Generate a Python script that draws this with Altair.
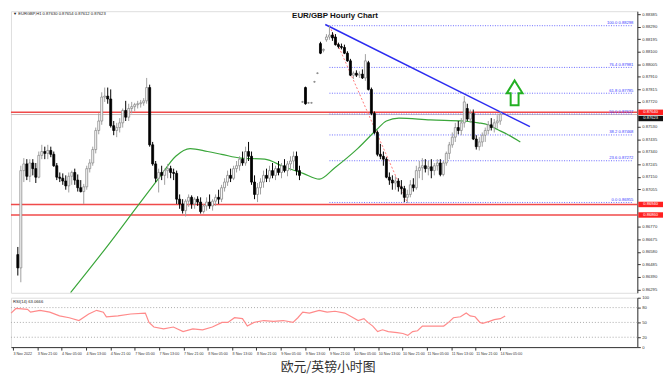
import altair as alt
import pandas as pd

# ---------------- data ----------------
OPEN = [0.86559,0.86458,0.87197,0.87248,0.87154,0.87255,0.87212,0.87147,0.87313,0.87342,
        0.87328,0.87350,0.87321,0.87234,0.87147,0.87139,0.87118,0.87081,0.87154,0.87183,
        0.87125,0.87067,0.87038,0.87074,0.87212,0.87255,0.87357,0.87502,0.87574,0.87756,
        0.87763,0.87741,0.87538,0.87502,0.87524,0.87560,0.87654,0.87603,0.87669,0.87683,
        0.87698,0.87705,0.87712,0.87727,0.87828,0.87393,0.87248,0.87139,0.87183,0.87161,
        0.87197,0.87212,0.87183,0.87176,0.86980,0.86944,0.86893,0.86965,0.86994,0.86944,
        0.86980,0.86958,0.86886,0.86929,0.86958,0.86929,0.86965,0.86994,0.86980,0.87067,
        0.87110,0.87161,0.87139,0.87212,0.87234,0.87284,0.87255,0.87342,0.87306,0.87110,
        0.87016,0.87067,0.87110,0.87161,0.87139,0.87197,0.87161,0.87212,0.87183,0.87234,
        0.87197,0.87248,0.87270,0.87306,0.87197,0.87719,0.87828,0.87712,0.87712,0.87872,
        0.87937,0.88162,0.88111,0.88191,0.88212,0.88227,0.88212,0.88154,0.88140,0.88133,
        0.88089,0.88031,0.87922,0.87937,0.87922,0.87930,0.87901,0.88017,0.87814,0.87632,
        0.87487,0.87321,0.87306,0.87284,0.87147,0.87125,0.87103,0.87118,0.87074,0.87060,
        0.86994,0.87016,0.87089,0.87067,0.87197,0.87219,0.87234,0.87212,0.87226,0.87197,
        0.87234,0.87255,0.87168,0.87255,0.87328,0.87393,0.87451,0.87524,0.87502,0.87560,
        0.87669,0.87589,0.87632,0.87437,0.87379,0.87415,0.87466,0.87502,0.87545,0.87524,
        0.87560,0.87574]
HIGH = [0.86617,0.87234,0.87292,0.87284,0.87284,0.87284,0.87255,0.87342,0.87393,0.87379,
        0.87393,0.87379,0.87342,0.87255,0.87183,0.87176,0.87161,0.87183,0.87197,0.87212,
        0.87168,0.87125,0.87096,0.87234,0.87284,0.87379,0.87524,0.87632,0.87792,0.87828,
        0.87828,0.87814,0.87574,0.87560,0.87596,0.87669,0.87727,0.87705,0.87719,0.87712,
        0.87727,0.87734,0.87748,0.87901,0.87850,0.87415,0.87270,0.87212,0.87234,0.87212,
        0.87248,0.87234,0.87212,0.87197,0.87016,0.86980,0.86980,0.87016,0.87009,0.86994,
        0.87002,0.86994,0.86944,0.86994,0.87016,0.86980,0.87016,0.87052,0.87089,0.87139,
        0.87197,0.87212,0.87234,0.87270,0.87306,0.87342,0.87379,0.87415,0.87342,0.87161,
        0.87103,0.87139,0.87197,0.87212,0.87234,0.87255,0.87234,0.87270,0.87255,0.87284,
        0.87270,0.87306,0.87342,0.87342,0.87234,0.87727,0.87835,0.87719,0.87719,0.87879,
        0.87944,0.88176,0.88125,0.88234,0.88299,0.88249,0.88234,0.88169,0.88162,0.88154,
        0.88104,0.88046,0.87951,0.87959,0.87951,0.87966,0.88082,0.88031,0.87828,0.87647,
        0.87502,0.87400,0.87342,0.87299,0.87183,0.87161,0.87154,0.87139,0.87125,0.87081,
        0.87052,0.87125,0.87139,0.87234,0.87270,0.87292,0.87284,0.87270,0.87284,0.87255,
        0.87284,0.87284,0.87270,0.87342,0.87415,0.87487,0.87560,0.87574,0.87596,0.87763,
        0.87705,0.87661,0.87661,0.87466,0.87451,0.87487,0.87524,0.87574,0.87596,0.87589,
        0.87618,0.87647]
LOW = [0.86400,0.86349,0.87110,0.87125,0.87110,0.87161,0.87103,0.87139,0.87284,0.87284,
       0.87284,0.87299,0.87226,0.87125,0.87110,0.87089,0.87052,0.87031,0.87089,0.87089,
       0.87038,0.87031,0.86944,0.87052,0.87183,0.87234,0.87328,0.87473,0.87545,0.87719,
       0.87705,0.87524,0.87466,0.87451,0.87487,0.87524,0.87574,0.87574,0.87632,0.87647,
       0.87669,0.87676,0.87690,0.87705,0.87379,0.87234,0.87110,0.87031,0.87125,0.87089,
       0.87139,0.87139,0.87125,0.86944,0.86907,0.86871,0.86849,0.86922,0.86907,0.86907,
       0.86929,0.86871,0.86871,0.86893,0.86907,0.86893,0.86929,0.86944,0.86958,0.87038,
       0.87081,0.87110,0.87125,0.87183,0.87197,0.87234,0.87234,0.87270,0.87089,0.86980,
       0.86958,0.87016,0.87067,0.87110,0.87110,0.87139,0.87125,0.87161,0.87139,0.87183,
       0.87154,0.87197,0.87212,0.87161,0.87125,0.87712,0.87698,0.87705,0.87705,0.87864,
       0.87930,0.88082,0.88096,0.88176,0.88191,0.88183,0.88147,0.88125,0.88118,0.88082,
       0.88024,0.87915,0.87893,0.87908,0.87901,0.87893,0.87879,0.87806,0.87618,0.87473,
       0.87306,0.87284,0.87234,0.87139,0.87089,0.87052,0.87052,0.87038,0.87016,0.86958,
       0.86951,0.86994,0.87038,0.87052,0.87139,0.87125,0.87183,0.87161,0.87139,0.87161,
       0.87197,0.87154,0.87154,0.87234,0.87284,0.87371,0.87415,0.87473,0.87466,0.87524,
       0.87574,0.87560,0.87429,0.87357,0.87350,0.87379,0.87415,0.87473,0.87502,0.87487,
       0.87516,0.87545]
CLOSE = [0.86458,0.87197,0.87248,0.87154,0.87255,0.87212,0.87147,0.87313,0.87342,0.87328,
         0.87350,0.87321,0.87234,0.87147,0.87139,0.87118,0.87081,0.87154,0.87183,0.87125,
         0.87067,0.87038,0.87074,0.87212,0.87255,0.87357,0.87502,0.87574,0.87756,0.87763,
         0.87741,0.87538,0.87502,0.87524,0.87560,0.87654,0.87603,0.87669,0.87683,0.87698,
         0.87705,0.87712,0.87727,0.87828,0.87393,0.87248,0.87139,0.87183,0.87161,0.87197,
         0.87212,0.87183,0.87176,0.86980,0.86944,0.86893,0.86965,0.86994,0.86944,0.86980,
         0.86958,0.86886,0.86929,0.86958,0.86929,0.86965,0.86994,0.86980,0.87067,0.87110,
         0.87161,0.87139,0.87212,0.87234,0.87284,0.87255,0.87342,0.87306,0.87110,0.87016,
         0.87067,0.87110,0.87161,0.87139,0.87197,0.87161,0.87212,0.87183,0.87234,0.87197,
         0.87248,0.87270,0.87306,0.87197,0.87161,0.87719,0.87705,0.87712,0.87712,0.87872,
         0.87937,0.88089,0.88118,0.88212,0.88227,0.88205,0.88154,0.88140,0.88133,0.88089,
         0.88031,0.87922,0.87937,0.87922,0.87930,0.87901,0.88031,0.87814,0.87632,0.87487,
         0.87321,0.87306,0.87284,0.87147,0.87125,0.87103,0.87118,0.87074,0.87060,0.86994,
         0.87016,0.87089,0.87067,0.87197,0.87219,0.87234,0.87212,0.87226,0.87197,0.87234,
         0.87255,0.87168,0.87255,0.87328,0.87393,0.87451,0.87524,0.87502,0.87560,0.87719,
         0.87589,0.87632,0.87437,0.87379,0.87415,0.87466,0.87502,0.87545,0.87524,0.87560,
         0.87574,0.87625]

TIME_LABELS = ["3 Nov 2022", "3 Nov 21:00", "4 Nov 05:00", "4 Nov 13:00", "4 Nov 21:00",
               "7 Nov 05:00", "7 Nov 13:00", "7 Nov 21:00", "8 Nov 05:00", "8 Nov 13:00",
               "8 Nov 21:00", "9 Nov 05:00", "9 Nov 13:00", "9 Nov 21:00", "10 Nov 05:00",
               "10 Nov 13:00", "10 Nov 21:00", "11 Nov 05:00", "11 Nov 13:00", "11 Nov 21:00",
               "14 Nov 05:00"]
LABEL_STEP = 8  # one time label every 8 hourly bars

# price labels of the right axis (those hidden behind the line-price boxes are left out)
PRICE_TICKS = [0.88385, 0.88290, 0.88195, 0.88100, 0.88005, 0.87910, 0.87815, 0.87720,
               0.87530, 0.87435, 0.87340, 0.87245, 0.87150, 0.87055,
               0.86770, 0.86675, 0.86580, 0.86485, 0.86390, 0.86295]

MA_BAR = [17.6, 30.4, 40, 47.3, 52.7, 57.5, 63.3, 68, 74.4, 82.4, 88.8, 95.2, 100.6,
          105.8, 113.4, 119.8, 123, 127.2, 137.7, 148.6, 153.7, 156.9, 160.1, 163.3, 167.7]
MA_PRICE = [0.86270, 0.86639, 0.86929, 0.87147, 0.87306, 0.87364, 0.87342, 0.87321,
            0.87292, 0.87284, 0.87226, 0.87176, 0.87132, 0.87219, 0.87364, 0.87509,
            0.87574, 0.87596, 0.87582, 0.87574, 0.87560, 0.87545, 0.87509, 0.87473, 0.87415]

RSI_BAR = [-0.6, 1, 4.8, 5.8, 8.9, 12.1, 15.3, 18.5, 21.7, 24.9, 27.5, 29.7, 30.7, 34.5,
           38.7, 43.5, 44.7, 46.3, 49.5, 52.7, 55.9, 59.1, 62.3, 65.5, 68.7, 70.6, 72.8,
           75.4, 77, 79.2, 82.4, 85.6, 88.8, 92, 93.6, 95.2, 97.4, 100.6, 103.2, 105.8,
           109, 111.2, 113.4, 115.3, 116.6, 118.2, 119.8, 121.4, 123.3, 126.2, 128.1,
           129.7, 131.3, 132.9, 134.5, 136.7, 139, 141.5, 143.1, 144.7, 147, 148.9, 150.2,
           151.8, 153.4, 154.3, 156.5, 158.1, 160.1, 161.7]
RSI_VALUE = [68.9, 78.2, 76.4, 70.7, 74.5, 70.7, 63.2, 59.5, 53.8, 67.0, 74.5, 70.7, 61.4,
             63.2, 67.0, 68.9, 50.1, 40.7, 37.0, 40.7, 31.3, 37.0, 35.1, 40.7, 50.1, 50.1,
             59.5, 57.6, 42.6, 50.1, 53.8, 52.0, 53.8, 50.1, 59.5, 70.7, 68.9, 74.5, 70.7,
             72.6, 68.9, 61.4, 53.8, 57.6, 50.1, 42.6, 31.3, 35.1, 31.3, 29.5, 27.6, 23.8,
             31.3, 33.2, 42.6, 42.6, 42.6, 42.6, 50.1, 59.5, 61.4, 68.9, 63.2, 61.4, 50.1,
             48.2, 52.0, 55.7, 57.6, 63.1]
RSI_LEVELS = [80, 50, 20]
RSI_TICKS = [0, 20, 50, 80, 100]

FIB_PCT = [100.0, 76.4, 61.8, 50.0, 38.2, 23.6, 0.0]
FIB_PRICE = [0.88298, 0.87981, 0.87785, 0.87627, 0.87468, 0.87272, 0.86955]
FIB_START_BAR = 104
FIB_DIAG_BAR = [104, 130]
FIB_DIAG_PRICE = [0.88298, 0.86955]

TREND_BAR = [102.6, 170.9]
TREND_PRICE = [0.88307, 0.87531]

RED_LEVELS = [0.87640, 0.86940, 0.86860]
BID_PRICE = 0.87623
ARROW_BAR = [165.8]
ARROW_PRICE = [0.87788]

HEADER = "\u25bc EURGBP,H1  0.87630 0.87654 0.87612 0.87623"
TITLE = "EUR/GBP Hourly Chart"
RSI_HEADER = "RSI(14) 63.0666"
CAPTION = "欧元/英镑小时图"

# ---------------- layout ----------------
W = 634
H_MAIN = 285
H_RSI = 50
X_DOMAIN = [-0.64, 205.1]
Y_DOMAIN = [0.86269, 0.88408]
FONT = "Liberation Sans"
SMALL = 4.2

xsc = alt.Scale(domain=X_DOMAIN, nice=False, zero=False)
ysc = alt.Scale(domain=Y_DOMAIN, nice=False, zero=False)
yax = alt.Axis(orient="right", values=PRICE_TICKS, format=".5f", title=None, grid=False,
               labelFontSize=SMALL, tickSize=3, labelPadding=1.5, labelColor="#333",
               domainColor="#333", tickColor="#333", labelFont=FONT)

candles = pd.DataFrame({"bar": list(range(len(OPEN))), "open": OPEN, "high": HIGH,
                        "low": LOW, "close": CLOSE})
is_bull = "datum.close >= datum.open"

X = alt.X("bar:Q", scale=xsc, axis=None)

wicks = alt.Chart(candles).mark_rule(strokeWidth=1).encode(
    x=X,
    y=alt.Y("low:Q", scale=ysc, axis=yax),
    y2="high:Q",
    color=alt.condition(is_bull, alt.value("#a0a0a0"), alt.value("#000000")),
)
bodies = alt.Chart(candles).mark_bar(size=2, strokeWidth=0.8).encode(
    x=X,
    y=alt.Y("open:Q", scale=ysc, axis=yax),
    y2="close:Q",
    fill=alt.condition(is_bull, alt.value("#ffffff"), alt.value("#000000")),
    stroke=alt.condition(is_bull, alt.value("#8a8a8a"), alt.value("#000000")),
)

red_df = pd.DataFrame({"price": RED_LEVELS})
red_lines = alt.Chart(red_df).mark_rule(color="#f04a4a", strokeWidth=1.6).encode(
    y=alt.Y("price:Q", scale=ysc, axis=yax))
bid_line = alt.Chart(pd.DataFrame({"price": [BID_PRICE]})).mark_rule(
    color="#c9b8b8", strokeWidth=1).encode(y=alt.Y("price:Q", scale=ysc, axis=yax))

fib_df = pd.DataFrame({
    "start": [FIB_START_BAR] * len(FIB_PRICE),
    "end": [X_DOMAIN[1]] * len(FIB_PRICE),
    "price": FIB_PRICE,
    "label": [f"{p:.1f}  {v:.5f}" for p, v in zip(FIB_PCT, FIB_PRICE)],
})
fib_rules = alt.Chart(fib_df).mark_rule(color="#6a6aff", strokeDash=[1, 1.5], strokeWidth=1).encode(
    x=alt.X("start:Q", scale=xsc, axis=None), x2="end:Q",
    y=alt.Y("price:Q", scale=ysc, axis=yax))
fib_text = alt.Chart(fib_df).mark_text(align="right", baseline="bottom", dy=-0.5, fontSize=SMALL,
                                       color="#3a3aff", font=FONT).encode(
    x=alt.value(W - 4), y=alt.Y("price:Q", scale=ysc, axis=yax), text="label:N")

fib_diag = alt.Chart(pd.DataFrame({"bar": FIB_DIAG_BAR, "price": FIB_DIAG_PRICE})).mark_line(
    color="#ff7a7a", strokeDash=[2, 2], strokeWidth=1).encode(
    x=X, y=alt.Y("price:Q", scale=ysc, axis=yax))

ma = alt.Chart(pd.DataFrame({"bar": MA_BAR, "price": MA_PRICE})).mark_line(
    color="#3aa63a", strokeWidth=1.2, interpolate="monotone", clip=True).encode(
    x=X, y=alt.Y("price:Q", scale=ysc, axis=yax))

trend = alt.Chart(pd.DataFrame({"bar": TREND_BAR, "price": TREND_PRICE})).mark_line(
    color="#2b2bf0", strokeWidth=1.5).encode(x=X, y=alt.Y("price:Q", scale=ysc, axis=yax))

ARROW_PATH = "M0,-1 L0.64,0.04 L0.32,0.04 L0.32,1 L-0.32,1 L-0.32,0.04 L-0.64,0.04 Z"
arrow = alt.Chart(pd.DataFrame({"bar": ARROW_BAR, "price": ARROW_PRICE})).mark_point(
    shape=ARROW_PATH, size=625, filled=False, strokeWidth=2, color="#22b022", opacity=1).encode(
    x=X, y=alt.Y("price:Q", scale=ysc, axis=yax))

BOX_PATH = "M-1,-0.22 L1,-0.22 L1,0.22 L-1,0.22 Z"
lvl_df = pd.DataFrame({"price": RED_LEVELS, "label": [f"{v:.5f}" for v in RED_LEVELS]})
bid_df = pd.DataFrame({"price": [BID_PRICE], "label": [f"{BID_PRICE:.5f}"]})
lvl_boxes = alt.Chart(lvl_df).mark_point(shape=BOX_PATH, size=625, filled=True, opacity=1,
                                         color="#ff2020").encode(
    x=alt.value(W + 13.5), y=alt.Y("price:Q", scale=ysc, axis=yax))
lvl_text = alt.Chart(lvl_df).mark_text(fontSize=SMALL, color="white", font=FONT).encode(
    x=alt.value(W + 13.5), y=alt.Y("price:Q", scale=ysc, axis=yax), text="label:N")
bid_box = alt.Chart(bid_df).mark_point(shape=BOX_PATH, size=625, filled=True, opacity=1,
                                       color="#111111", yOffset=4).encode(
    x=alt.value(W + 13.5), y=alt.Y("price:Q", scale=ysc, axis=yax))
bid_text = alt.Chart(bid_df).mark_text(fontSize=SMALL, color="white", font=FONT, dy=4).encode(
    x=alt.value(W + 13.5), y=alt.Y("price:Q", scale=ysc, axis=yax), text="label:N")

header = alt.Chart(pd.DataFrame({"t": [HEADER]})).mark_text(
    align="left", baseline="top", fontSize=SMALL, color="#222", font=FONT).encode(
    x=alt.value(2), y=alt.value(1), text="t:N")
title = alt.Chart(pd.DataFrame({"t": [TITLE]})).mark_text(
    align="center", baseline="top", fontSize=8, fontWeight="bold", color="#111",
    font="Liberation Sans").encode(x=alt.value(328), y=alt.value(1), text="t:N")

main = alt.layer(red_lines, bid_line, fib_rules, fib_text, fib_diag, ma, trend,
                 wicks, bodies, arrow, lvl_boxes, lvl_text, bid_box, bid_text,
                 header, title).properties(width=W, height=H_MAIN)

# ---------------- RSI panel ----------------
label_expr = "[" + ",".join(f"'{t}'" for t in TIME_LABELS) + f"][datum.value / {LABEL_STEP}]"
label_bars = [LABEL_STEP * k for k in range(len(TIME_LABELS))]
xax = alt.Axis(values=label_bars, labelExpr=label_expr, labelAlign="left", labelFontSize=3.7,
               tickSize=3, labelPadding=1, title=None, grid=False, labelOverlap=False,
               labelFlush=False, labelColor="#333", domainColor="#333", tickColor="#333",
               labelFont=FONT)
rsc = alt.Scale(domain=[0, 100], nice=False, zero=False)
rax = alt.Axis(orient="right", values=RSI_TICKS, title=None, grid=False, labelFontSize=SMALL,
               tickSize=3, labelPadding=1.5, labelColor="#333", domainColor="#333",
               tickColor="#333", labelFont=FONT)

rsi_df = pd.DataFrame({"bar": RSI_BAR, "rsi": RSI_VALUE})
rsi_line = alt.Chart(rsi_df).mark_line(color="#ff8a8a", strokeWidth=1.2).encode(
    x=alt.X("bar:Q", scale=xsc, axis=xax), y=alt.Y("rsi:Q", scale=rsc, axis=rax))
rsi_levels = alt.Chart(pd.DataFrame({"rsi": RSI_LEVELS})).mark_rule(
    color="#aaaaaa", strokeDash=[1, 2], strokeWidth=1).encode(
    y=alt.Y("rsi:Q", scale=rsc, axis=rax))
rsi_head = alt.Chart(pd.DataFrame({"t": [RSI_HEADER]})).mark_text(
    align="left", baseline="top", fontSize=SMALL, color="#222", font=FONT).encode(
    x=alt.value(2), y=alt.value(2), text="t:N")
caption = alt.Chart(pd.DataFrame({"t": [CAPTION]})).mark_text(
    align="center", baseline="middle", fontSize=13, color="#333",
    font="Noto Sans CJK SC").encode(x=alt.value(W / 2 + 4), y=alt.value(H_RSI + 20), text="t:N")

rsi = alt.layer(rsi_levels, rsi_line, rsi_head, caption).properties(width=W, height=H_RSI)

chart = alt.vconcat(main, rsi, spacing=1).properties(padding=0).configure_view(
    stroke="#666666", strokeWidth=1).configure(background="white")

chart.save("out.html", embed_options={"renderer": "svg", "actions": False})
